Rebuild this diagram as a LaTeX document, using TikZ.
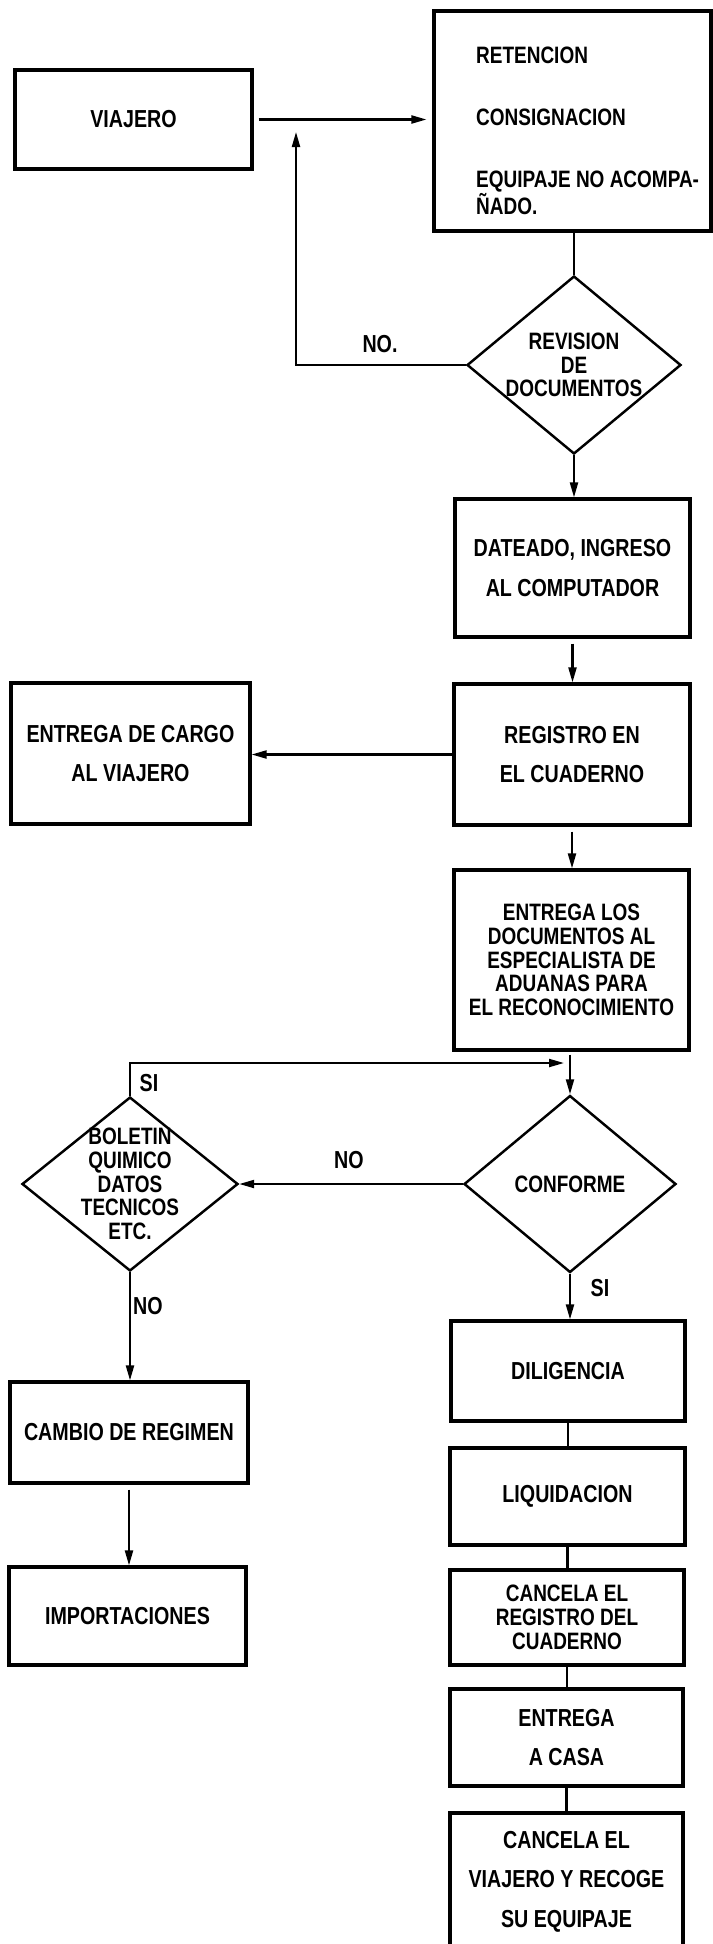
\documentclass[tikz,border=0pt]{standalone}
\usepackage{fontspec}
\newfontfamily\flowfont{Liberation Sans}[FakeStretch=0.8]
\usetikzlibrary{positioning,arrows.meta,shapes.geometric}

\begin{document}
\begin{tikzpicture}[
    box/.style={draw, line width=1.8pt, align=center, inner sep=0pt},
    diam/.style={draw, diamond, line width=1.4pt, inner sep=0pt},
    loose/.style={font=\flowfont\bfseries\fontsize{14}{22.5}\selectfont},
    tight/.style={font=\flowfont\bfseries\fontsize{13.5}{13.5}\selectfont},
    conn/.style={line width=1.2pt},
    arr/.style={conn, -{Triangle[length=0.3cm, width=0.16cm]}}
]

    \useasboundingbox (0,0) rectangle (14.26,-38.88);

    % top row
    \node[box, loose, minimum width=4.74cm, minimum height=1.98cm] (viajero) at (2.67,-2.39) {VIAJERO};
    \node[box, minimum width=5.54cm, minimum height=4.4cm] (ret) at (11.45,-2.42) {};
    \node[tight, anchor=west, align=left] (rettxt) at (9.40,-2.62)
        {RETENCION\\[22pt] CONSIGNACION\\[21.5pt] EQUIPAJE NO ACOMPA-\\ ÑADO.};
    \node[diam, minimum width=4.28cm, minimum height=3.56cm] (rev) at (11.48,-7.30) {};
    \node[tight, align=center] (revtxt) at (rev) {REVISION\\ DE\\ DOCUMENTOS};
    \coordinate (back) at (5.92,-2.64);

    % right column
    \node[box, loose, minimum width=4.7cm, minimum height=2.76cm] (dat) at (11.45,-11.36) {DATEADO, INGRESO\\ AL COMPUTADOR};
    \node[box, loose, minimum width=4.72cm, minimum height=2.82cm] (reg) at (11.44,-15.09) {REGISTRO EN\\ EL CUADERNO};
    \node[box, loose, minimum width=4.78cm, minimum height=2.82cm] (cargo) at (2.61,-15.07) {ENTREGA DE CARGO\\ AL VIAJERO};
    \node[box, tight, minimum width=4.7cm, minimum height=3.6cm] (ent) at (11.43,-19.20)
        {ENTREGA LOS\\ DOCUMENTOS AL\\ ESPECIALISTA DE\\ ADUANAS PARA\\ EL RECONOCIMIENTO};

    % decisions
    \node[diam, minimum width=4.24cm, minimum height=3.54cm] (conf) at (11.40,-23.68) {};
    \node[tight] (conftxt) at (conf) {CONFORME};
    \node[diam, minimum width=4.32cm, minimum height=3.48cm] (bol) at (2.60,-23.68) {};
    \node[tight, align=center] (boltxt) at (bol) {BOLETIN\\ QUIMICO\\ DATOS\\ TECNICOS\\ ETC.};
    \coordinate (join) at (11.28,-21.26);

    % left branch
    \node[box, loose, minimum width=4.76cm, minimum height=2.02cm] (cam) at (2.58,-28.65) {CAMBIO DE REGIMEN};
    \node[box, loose, minimum width=4.74cm, minimum height=1.96cm] (imp) at (2.55,-32.32) {IMPORTACIONES};

    % right branch
    \node[box, loose, minimum width=4.68cm, minimum height=2.0cm] (dil) at (11.36,-27.42) {DILIGENCIA};
    \node[box, loose, minimum width=4.7cm, minimum height=1.94cm] (liq) at (11.35,-29.93) {LIQUIDACION};
    \node[box, tight, minimum width=4.68cm, minimum height=1.9cm] (canreg) at (11.34,-32.35) {CANCELA EL\\ REGISTRO DEL\\ CUADERNO};
    \node[box, loose, minimum width=4.66cm, minimum height=1.94cm] (casa) at (11.33,-34.75) {ENTREGA\\ A CASA};
    \node[box, loose, minimum width=4.66cm, minimum height=2.74cm] (canvia) at (11.33,-37.63) {CANCELA EL\\ VIAJERO Y RECOGE\\ SU EQUIPAJE};

    % connectors
    \draw[arr, shorten <=0.1cm, shorten >=0.12cm] (viajero.east) -- (viajero.east -| ret.west);
    \draw[conn] (rev.north |- ret.south) -- (rev.north);
    \draw[arr] (rev.west) -| (back);
    \draw[arr] (rev.south) -- (rev.south |- dat.north);
    \draw[arr, shorten <=0.1cm] (dat.south) -- (dat.south |- reg.north);
    \draw[arr] (reg.west) -- (reg.west -| cargo.east);
    \draw[arr, shorten <=0.1cm] (reg.south) -- (reg.south |- ent.north);
    \draw[arr, shorten <=0.06cm] (conf.north |- ent.south) -- (conf.north);
    \draw[arr] (bol.north) |- (join);
    \draw[arr] (conf.west) -- (bol.east);
    \draw[arr] (conf.south) -- (conf.south |- dil.north);
    \draw[arr] (bol.south) -- (bol.south |- cam.north);
    \draw[arr, shorten <=0.1cm] (cam.south) -- (cam.south |- imp.north);
    \draw[conn] (dil.south) -- (dil.south |- liq.north);
    \draw[conn] (liq.south) -- (liq.south |- canreg.north);
    \draw[conn] (canreg.south) -- (canreg.south |- casa.north);
    \draw[conn] (casa.south) -- (casa.south |- canvia.north);

    % labels
    \node[loose] (nortxt) at (7.60,-6.88) {NO.};
    \node[loose] (noconf) at (6.98,-23.20) {NO};
    \node[loose] (sibol) at (2.98,-21.66) {SI};
    \node[loose] (siconf) at (12.00,-25.76) {SI};
    \node[loose] (nobol) at (2.96,-26.12) {NO};

\end{tikzpicture}
\end{document}
